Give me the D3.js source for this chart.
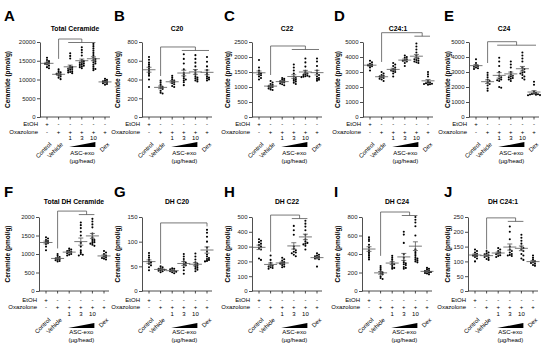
<!DOCTYPE html>
<html>
<head>
<meta charset="utf-8">
<script src="https://cdn.jsdelivr.net/npm/d3@7"></script>
<style>
body { margin: 0; background: #fff; }
svg { display: block; font-family: "Liberation Sans", Arial, sans-serif; }
</style>
</head>
<body>
<script>
// groups on the x axis
const groups = ['Control', 'Vehicle', '1', '3', '10', 'Dex'];
const etohRow = ['+', '-', '-', '-', '-', '-'];
const oxaRow = ['-', '+', '+', '+', '+', '+'];
const doseRow = ['', '', '1', '3', '10', ''];
const rotLabels = ['Control', 'Vehicle', '', '', '', 'Dex'];

const letters = ['A', 'B', 'C', 'D', 'E', 'F', 'G', 'H', 'I', 'J'];
const titles = ['Total Ceramide', 'C20', 'C22', 'C24:1', 'C24',
    'Total DH Ceramide', 'DH C20', 'DH C22', 'DH C24', 'DH C24:1'];
const yMaxes = [20000, 800, 2500, 5000, 5000, 2000, 150, 500, 800, 250];
const ySteps = [5000, 200, 500, 1000, 1000, 500, 50, 100, 200, 50];

// individual animals per group (pmol/g)
const totalCer = [
    [15800, 15200, 14900, 14600, 14400, 14200, 14000, 13700, 13300, 13000],
    [12700, 12200, 11900, 11700, 11500, 11300, 11100, 10800, 10500, 10100],
    [17000, 16300, 15600, 13600, 13300, 13100, 12900, 12800, 12600, 12400, 12200, 12000, 11900, 11700],
    [18600, 17900, 17200, 16400, 15200, 14900, 14700, 14500, 14300, 14100, 13900, 13700, 13500, 13300, 13000],
    [19500, 18900, 18300, 17700, 17100, 16500, 15900, 15500, 15200, 14900, 14600, 14300, 14000, 13500, 13000, 12800, 12500],
    [10200, 9900, 9700, 9500, 9300, 9200, 9000, 8800, 8600]
];
const c20 = [
    [640, 610, 580, 560, 540, 520, 500, 480, 460, 440, 400, 320],
    [390, 370, 350, 330, 320, 310, 300, 280, 260, 250],
    [440, 420, 400, 390, 380, 370, 360, 350, 330, 320],
    [670, 620, 570, 510, 470, 450, 430, 410, 400, 390, 370, 340],
    [660, 620, 580, 540, 500, 470, 450, 430, 420, 410, 400, 390, 380],
    [640, 590, 540, 500, 470, 450, 430, 420, 410, 400, 390]
];
const c22 = [
    [1900, 1650, 1550, 1480, 1450, 1420, 1390, 1350, 1300, 1250],
    [1200, 1150, 1100, 1070, 1040, 1020, 1000, 980, 950, 920, 900],
    [1300, 1270, 1240, 1210, 1190, 1170, 1150, 1120, 1090, 1060],
    [1750, 1650, 1550, 1450, 1350, 1300, 1270, 1240, 1210, 1180, 1140, 1100],
    [1950, 1820, 1680, 1540, 1480, 1450, 1420, 1400, 1380, 1360, 1350, 1340, 1330],
    [1950, 1850, 1700, 1550, 1450, 1400, 1350, 1300, 1270, 1240, 1210]
];
const c241 = [
    [3750, 3650, 3550, 3500, 3450, 3420, 3380, 3300, 3100],
    [3000, 2900, 2800, 2750, 2700, 2650, 2600, 2550, 2500, 2400],
    [3600, 3500, 3400, 3300, 3200, 3150, 3100, 3050, 3000, 2900, 2700],
    [4100, 4000, 3950, 3850, 3800, 3750, 3700, 3600, 3400],
    [4900, 4700, 4500, 4300, 4100, 3950, 3900, 3850, 3800, 3750, 3700, 3650, 3600],
    [3000, 2850, 2700, 2400, 2300, 2280, 2250, 2220, 2200, 2180, 2150]
];
const c24 = [
    [3850, 3600, 3450, 3400, 3350, 3300, 3250, 3200],
    [2950, 2800, 2650, 2500, 2400, 2300, 2200, 2100, 1900, 1750],
    [3950, 3700, 3400, 3000, 2750, 2650, 2550, 2500, 2450, 2400, 2000, 1950],
    [3700, 3500, 3300, 3000, 2850, 2750, 2700, 2650, 2600, 2550, 2500, 2400],
    [4300, 4100, 3900, 3700, 3300, 3200, 3100, 3000, 2950, 2900, 2800, 2700, 2600, 2500],
    [2350, 2150, 1700, 1600, 1560, 1540, 1520, 1500, 1480, 1460, 1450]
];
const dhTotal = [
    [1450, 1420, 1380, 1350, 1330, 1300, 1270, 1200, 1100],
    [1000, 950, 920, 900, 880, 860, 850, 830, 810, 800],
    [1150, 1120, 1100, 1080, 1060, 1040, 1020, 1000, 980, 960],
    [1850, 1780, 1700, 1600, 1500, 1300, 1200, 1100, 1050, 1000, 980, 960],
    [1950, 1880, 1800, 1720, 1550, 1450, 1400, 1380, 1350, 1320, 1300, 1280, 1250, 1220],
    [1080, 1040, 1000, 960, 930, 910, 890, 870, 850]
];
const dhC20 = [
    [77, 72, 68, 64, 60, 58, 55, 52, 48, 42],
    [50, 48, 46, 45, 44, 43, 42, 41, 40, 38],
    [46, 45, 44, 42, 41, 40, 39, 38, 36],
    [75, 70, 65, 60, 57, 54, 52, 48, 42, 35],
    [76, 70, 64, 58, 55, 53, 51, 49, 47, 45, 43, 40],
    [124, 118, 110, 100, 88, 80, 74, 70, 67, 65, 63, 61, 60]
];
const dhC22 = [
    [350, 340, 330, 320, 310, 300, 290, 280, 220, 210],
    [240, 210, 190, 175, 170, 165, 160, 155, 150],
    [225, 215, 205, 195, 190, 185, 180, 175, 165, 160],
    [440, 410, 380, 300, 285, 275, 265, 260, 255, 245, 235],
    [475, 455, 435, 410, 380, 350, 335, 325, 320, 315, 305, 280],
    [255, 245, 240, 235, 230, 225, 220, 215, 165]
];
const dhC24 = [
    [580, 560, 540, 500, 470, 440, 420, 400, 380, 360, 340],
    [270, 250, 230, 210, 200, 190, 180, 160, 140, 130],
    [380, 360, 340, 320, 300, 290, 280, 260, 250, 240],
    [640, 610, 520, 400, 360, 330, 310, 300, 290, 280, 260, 250, 240],
    [800, 770, 740, 700, 600, 450, 420, 400, 380, 360, 350, 340, 330, 320, 310],
    [250, 240, 230, 220, 215, 210, 205, 200, 195, 190, 180]
];
const dhC241 = [
    [140, 135, 130, 126, 122, 120, 118, 115, 110, 100],
    [135, 130, 127, 124, 121, 118, 115, 112, 108, 105],
    [145, 140, 135, 130, 127, 124, 121, 118, 115],
    [218, 200, 175, 150, 140, 135, 130, 125, 122, 120, 118],
    [190, 180, 170, 160, 150, 145, 140, 135, 125, 120, 110, 105],
    [120, 112, 105, 100, 97, 95, 92, 88, 85]
];
const panelData = [totalCer, c20, c22, c241, c24, dhTotal, dhC20, dhC22, dhC24, dhC241];

// significance brackets: vehicle -> group span, in data units
const brackets = [
    {from: 1, span: [2, 4], top: 20800, low: 15500},
    {from: 1, span: [3, 5], top: 747, low: 437},
    {from: 1, span: [3, 5], top: 2367, low: 1400},
    {from: 1, span: [4, 5], top: 5620, low: 3670},
    {from: 1, span: [2, 5], top: 5020, low: 3600},
    {from: 1, span: [3, 4], top: 2160, low: 1150},
    {from: 1, span: [5, 5], top: 138, low: 55},
    {from: 1, span: [3, 4], top: 513, low: 265},
    {from: 1, span: [3, 4], top: 854, low: 380},
    {from: 1, span: [3, 4], top: 247, low: 140}
];

const svgWidth = 550;
const svgHeight = 344;

const svg = d3.select('body')
.append('svg')
.attr('width', svgWidth)
.attr('height', svgHeight)

// layout of the two rows
const rows = [
    {letterY: 21, titleY: 31, top: 42, bottom: 117, etohY: 126, oxaY: 133.5, doseY: 140, rotY: 142, wedgeY: 147, ascY: 154.5, ugY: 162.5},
    {letterY: 197, titleY: 204, top: 217, bottom: 291, etohY: 302, oxaY: 309, doseY: 315.5, rotY: 317.5, wedgeY: 328, ascY: 334, ugY: 341.5}
];
const panelLeft = [0, 110, 220, 330, 440];
const axisXs = [40, 142, 252, 363, 469, 39, 142, 252, 362, 468];

const dotR = 1.05;

// simple beeswarm so equal values sit side by side (a little overlap allowed)
function swarm(values, cx, y) {
    const placed = [];
    const minDist = dotR * 1.7;
    const step = dotR * 1.9;
    values.slice().sort((a, b) => b - a).forEach((v) => {
        const py = y(v);
        for (let k = 0; k < 40; k++) {
            const off = k === 0 ? 0 : (k % 2 ? 1 : -1) * Math.ceil(k / 2) * step;
            const px = cx + off;
            const hit = placed.some((p) => (p.x - px) ** 2 + (p.y - py) ** 2 < minDist ** 2);
            if (!hit) {
                placed.push({x: px, y: py});
                break;
            }
        }
    });
    return placed;
}

function drawPanel(i) {
    const row = rows[i < 5 ? 0 : 1];
    const left = panelLeft[i % 5];
    const ax = axisXs[i];
    const data = panelData[i];
    const g = svg.append('g');

    const y = d3.scaleLinear().domain([0, yMaxes[i]]).range([row.bottom, row.top]);
    const x = d3.scalePoint().domain(d3.range(groups.length)).range([ax + 7, ax + 65]);

    // panel letter and title
    g.append('text')
    .attr('x', left + 4)
    .attr('y', row.letterY)
    .attr('font-size', 15)
    .attr('font-weight', 900)
    .text(letters[i])

    g.append('text')
    .attr('x', ax + 35)
    .attr('y', row.titleY)
    .attr('text-anchor', 'middle')
    .attr('font-size', 6.8)
    .attr('font-weight', 'bold')
    .text(titles[i])

    // y axis
    const yAxis = d3.axisLeft(y)
    .tickValues(d3.range(0, yMaxes[i] + 1, ySteps[i]))
    .tickSize(3)
    .tickSizeOuter(0)
    .tickPadding(1.5)
    .tickFormat(d3.format('d'))

    g.append('g')
    .attr('transform', `translate(${ax},0)`)
    .call(yAxis)
    .call((s) => {
        s.attr('font-size', null).attr('font-family', null)
        s.select('.domain').attr('stroke', '#222').attr('stroke-width', 0.8)
        s.selectAll('.tick line').attr('stroke', '#222').attr('stroke-width', 0.8)
        s.selectAll('.tick text').attr('font-size', 6).attr('fill', '#222')
    })

    g.append('text')
    .attr('transform', `translate(${left + 10},${(row.top + row.bottom) / 2}) rotate(-90)`)
    .attr('text-anchor', 'middle')
    .attr('font-size', 6.5)
    .attr('font-weight', 'bold')
    .text('Ceramide (pmol/g)')

    // x axis line with small ticks
    g.append('line')
    .attr('x1', ax).attr('x2', ax + 70)
    .attr('y1', row.bottom).attr('y2', row.bottom)
    .attr('stroke', '#222').attr('stroke-width', 0.8)

    g.selectAll('.xtick')
    .data(groups).enter()
    .append('line')
    .attr('x1', (d, j) => x(j)).attr('x2', (d, j) => x(j))
    .attr('y1', row.bottom).attr('y2', row.bottom + 2.5)
    .attr('stroke', '#222').attr('stroke-width', 0.8)

    // dots, mean and SEM
    data.forEach((vals, j) => {
        const cx = x(j);
        const pts = swarm(vals, cx, y);
        g.selectAll(null)
        .data(pts).enter()
        .append('circle')
        .attr('cx', (d) => d.x)
        .attr('cy', (d) => d.y)
        .attr('r', dotR)
        .attr('fill', '#000')

        const m = d3.mean(vals);
        const sem = d3.deviation(vals) / Math.sqrt(vals.length);
        const stat = g.append('g').attr('stroke', '#555').attr('stroke-width', 0.8);
        stat.append('line')
        .attr('x1', cx - 6.5).attr('x2', cx + 6.5)
        .attr('y1', y(m)).attr('y2', y(m))
        stat.append('line')
        .attr('x1', cx).attr('x2', cx)
        .attr('y1', y(m - sem)).attr('y2', y(m + sem))
        ;[m - sem, m + sem].forEach((v) => {
            stat.append('line')
            .attr('x1', cx - 2.5).attr('x2', cx + 2.5)
            .attr('y1', y(v)).attr('y2', y(v))
        })
    })

    // bracket
    const b = brackets[i];
    const xa = x(b.from);
    const xs0 = x(b.span[0]);
    const xs1 = x(b.span[1]);
    const xm = (xs0 + xs1) / 2;
    const yt = y(b.top);
    const drop = 3.5;
    const path = d3.path();
    path.moveTo(xa, y(b.low));
    path.lineTo(xa, yt);
    path.lineTo(xm, yt);
    path.lineTo(xm, yt + drop);
    if (xs1 > xs0) {
        path.moveTo(xs0 - 2, yt + drop);
        path.lineTo(xs1 + 2, yt + drop);
    }
    g.append('path')
    .attr('d', path.toString())
    .attr('fill', 'none')
    .attr('stroke', '#555')
    .attr('stroke-width', 0.8)

    // treatment table under the axis
    const labelEnd = ax - 2;
    g.append('text').attr('x', labelEnd).attr('y', row.etohY)
    .attr('text-anchor', 'end').attr('font-size', 6).text('EtOH')
    g.append('text').attr('x', labelEnd).attr('y', row.oxaY)
    .attr('text-anchor', 'end').attr('font-size', 6).text('Oxazolone')

    const rowsText = [[etohRow, row.etohY], [oxaRow, row.oxaY], [doseRow, row.doseY]];
    rowsText.forEach(([arr, yy]) => {
        g.selectAll(null)
        .data(arr).enter()
        .append('text')
        .attr('x', (d, j) => x(j))
        .attr('y', yy)
        .attr('text-anchor', 'middle')
        .attr('font-size', 6)
        .text((d) => d)
    })

    g.selectAll(null)
    .data(rotLabels).enter()
    .append('text')
    .attr('transform', (d, j) => `translate(${x(j) + 2},${row.rotY}) rotate(-45)`)
    .attr('text-anchor', 'end')
    .attr('dominant-baseline', 'hanging')
    .attr('font-size', 6)
    .text((d) => d)

    // dose wedge
    const wx0 = x(2) - 1;
    const wx1 = x(4) + 2;
    g.append('path')
    .attr('d', `M${wx0},${row.wedgeY}L${wx1},${row.wedgeY}L${wx1},${row.wedgeY - 5}Z`)
    .attr('fill', '#000')

    g.append('text')
    .attr('x', (wx0 + wx1) / 2)
    .attr('y', row.ascY)
    .attr('text-anchor', 'middle')
    .attr('font-size', 6)
    .text('ASC-exo')

    g.append('text')
    .attr('x', (wx0 + wx1) / 2)
    .attr('y', row.ugY)
    .attr('text-anchor', 'middle')
    .attr('font-size', 6)
    .text('(µg/head)')
}

for (let i = 0; i < 10; i++) {
    drawPanel(i);
}
</script>
</body>
</html>
